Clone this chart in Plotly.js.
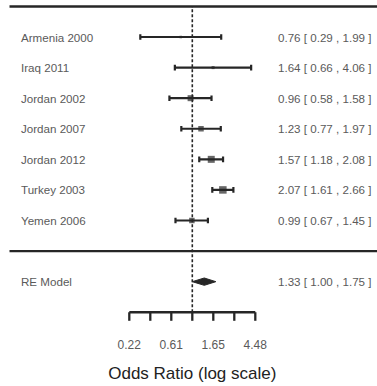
<!DOCTYPE html>
<html>
<head>
<meta charset="utf-8">
<script src="https://cdn.plot.ly/plotly-3.0.1.min.js"></script>
<style>html,body{margin:0;padding:0;background:#fff;}#chart{width:377px;height:386px;}</style>
</head>
<body>
<div id="chart"></div>
<script>
// ---- data ----
const studies = ["Armenia 2000", "Iraq 2011", "Jordan 2002", "Jordan 2007", "Jordan 2012", "Turkey 2003", "Yemen 2006"];
const oddsRatio = [0.76, 1.64, 0.96, 1.23, 1.57, 2.07, 0.99];
const ciLower = [0.29, 0.66, 0.58, 0.77, 1.18, 1.61, 0.67];
const ciUpper = [1.99, 4.06, 1.58, 1.97, 2.08, 2.66, 1.45];
const modelLabel = "RE Model";
const modelEst = 1.33;
const modelLower = 1.00;
const modelUpper = 1.75;
const tickVals = [Math.exp(-1.5), Math.exp(-1), Math.exp(-0.5), 1, Math.exp(0.5), Math.exp(1), Math.exp(1.5)];
const tickText = ["0.22", "", "0.61", "", "1.65", "", "4.48"];
const xTitle = "Odds Ratio (log scale)";

// ---- layout helpers ----
const k = studies.length;
const rows = studies.map((s, i) => k - i);
const modelRow = -1;
const axisRow = -2;
const markerSizes = [2.5, 3, 6, 5.5, 7, 7.5, 5.5];
const dark = "#262626";
const txt = "#5a5a5a";
const font = "Liberation Sans, Arial, Helvetica, sans-serif";
const fmt = v => v.toFixed(2);

const traces = [];

// reference line at OR = 1
traces.push({
  x: [1, 1], y: [axisRow, k + 1], mode: "lines",
  line: {color: dark, width: 1.6, dash: "3px,2px"}, hoverinfo: "skip"
});

// study CIs and squares
traces.push({
  x: oddsRatio, y: rows, mode: "markers", type: "scatter",
  marker: {symbol: "square", size: markerSizes, color: dark, line: {width: 0}},
  error_x: {
    type: "data", symmetric: false,
    array: oddsRatio.map((v, i) => ciUpper[i] - v),
    arrayminus: oddsRatio.map((v, i) => v - ciLower[i]),
    color: dark, thickness: 2.2, width: 2.8
  },
  hoverinfo: "skip"
});

// summary diamond
const dh = 0.12;
traces.push({
  x: [modelLower, modelEst, modelUpper, modelEst, modelLower],
  y: [modelRow, modelRow + dh, modelRow, modelRow - dh, modelRow],
  mode: "lines", fill: "toself", fillcolor: dark,
  line: {color: dark, width: 1}, hoverinfo: "skip"
});

// bottom axis line + ticks
const tickLen = 0.28;
const ax = [], ay = [];
ax.push(tickVals[0], tickVals[tickVals.length - 1], null);
ay.push(axisRow, axisRow, null);
tickVals.forEach(t => { ax.push(t, t, null); ay.push(axisRow, axisRow - tickLen, null); });
traces.push({x: ax, y: ay, mode: "lines", line: {color: dark, width: 2.3}, hoverinfo: "skip"});

// tick labels
traces.push({
  x: tickVals, y: tickVals.map(() => -3.1), mode: "text", text: tickText,
  textposition: "middle center",
  textfont: {family: font, size: 12, color: txt}, hoverinfo: "skip"
});

// axis title
traces.push({
  x: [1], y: [-4.05], mode: "text", text: [xTitle], textposition: "middle center",
  textfont: {family: font, size: 17, color: "#222222"}, hoverinfo: "skip"
});

const annotations = [];
studies.forEach((s, i) => {
  annotations.push({xref: "paper", yref: "y", x: 19 / 377, y: rows[i], xanchor: "left", yanchor: "middle",
    text: s, showarrow: false, font: {family: font, size: 11.6, color: txt}});
  annotations.push({xref: "paper", yref: "y", x: 373 / 377, y: rows[i], xanchor: "right", yanchor: "middle",
    text: fmt(oddsRatio[i]) + " [ " + fmt(ciLower[i]) + " , " + fmt(ciUpper[i]) + " ]",
    showarrow: false, font: {family: font, size: 11.6, color: txt}});
});
annotations.push({xref: "paper", yref: "y", x: 19 / 377, y: modelRow, xanchor: "left", yanchor: "middle",
  text: modelLabel, showarrow: false, font: {family: font, size: 11.6, color: txt}});
annotations.push({xref: "paper", yref: "y", x: 373 / 377, y: modelRow, xanchor: "right", yanchor: "middle",
  text: fmt(modelEst) + " [ " + fmt(modelLower) + " , " + fmt(modelUpper) + " ]",
  showarrow: false, font: {family: font, size: 11.6, color: txt}});

const shapes = [
  {type: "line", xref: "paper", yref: "y", x0: 9.5 / 377, x1: 1, y0: k + 1, y1: k + 1, line: {color: dark, width: 2.4}},
  {type: "line", xref: "paper", yref: "y", x0: 9.5 / 377, x1: 1, y0: 0, y1: 0, line: {color: dark, width: 2.4}}
];

const layout = {
  width: 377, height: 386,
  margin: {l: 0, r: 0, t: 0, b: 0, pad: 0},
  paper_bgcolor: "#ffffff", plot_bgcolor: "#ffffff",
  showlegend: false,
  xaxis: {type: "log", range: [-1.9884, 1.9098], visible: false, fixedrange: true},
  yaxis: {range: [-4.412, 8.2106], visible: false, fixedrange: true},
  shapes: shapes,
  annotations: annotations
};

Plotly.newPlot("chart", traces, layout, {displayModeBar: false, staticPlot: true});
</script>
</body>
</html>
